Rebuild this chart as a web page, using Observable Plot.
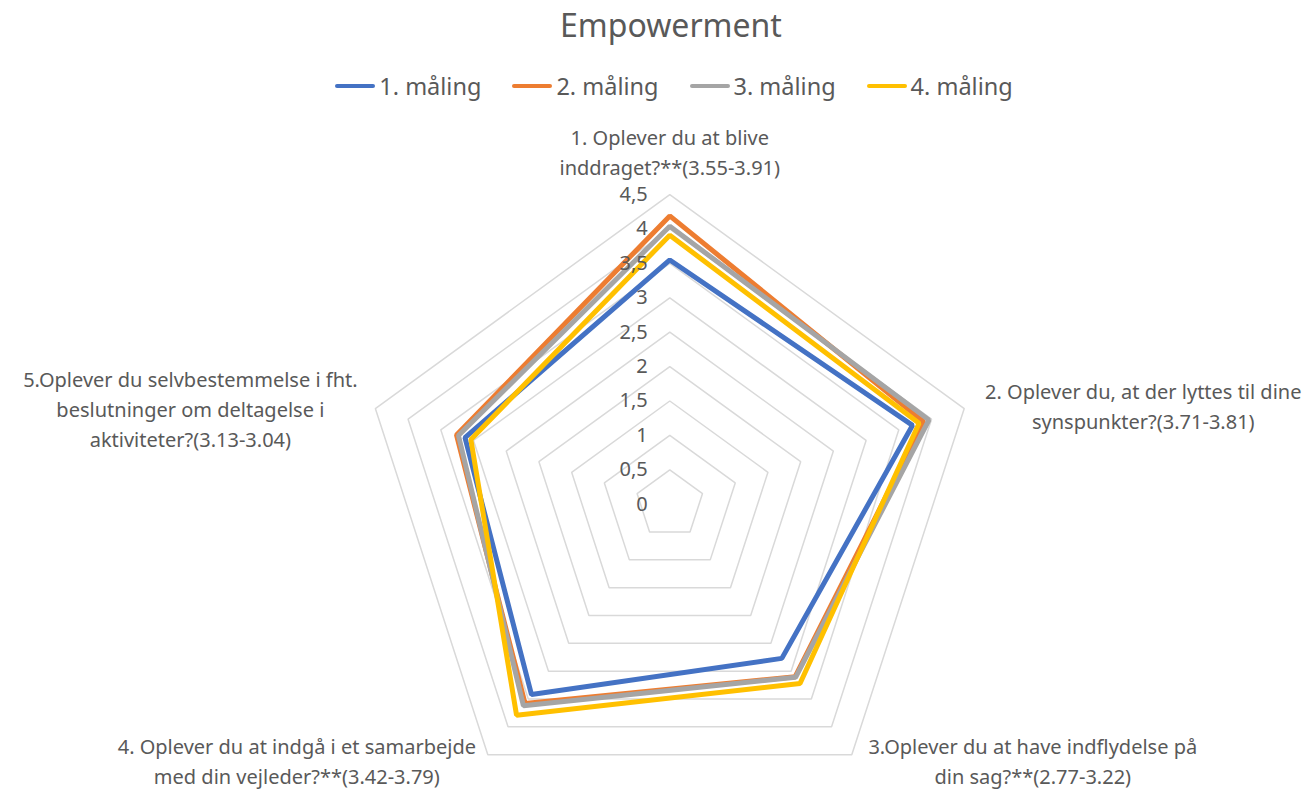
<!DOCTYPE html>
<html><head><meta charset="utf-8">
<script src="https://cdn.jsdelivr.net/npm/d3@7"></script>
<script src="https://cdn.jsdelivr.net/npm/@observablehq/plot@0.6"></script>
<style>
body{margin:0;background:#fff;font-family:"Noto Sans",sans-serif;color:#595959;}
#header{position:relative;width:1314px;height:105px;}
#title{position:absolute;top:3px;left:0;width:1314px;box-sizing:border-box;padding-left:28px;text-align:center;font-size:32px;}
#legend{position:absolute;top:70px;left:0;width:1314px;box-sizing:border-box;padding-left:34px;display:flex;justify-content:center;gap:31px;font-size:23.5px;}
.item{display:flex;align-items:center;}
.sw{display:inline-block;width:40px;height:4px;border-radius:2px;margin-right:4px;}
#chart svg{display:block;}
</style>
</head><body>
<div id="header"><div id="title">Empowerment</div><div id="legend"></div></div>
<div id="chart"></div>
<script>
// ---- data ----
const axisLabels = [
  "1. Oplever du at blive\ninddraget?**(3.55-3.91)",
  "2. Oplever du, at der lyttes til dine\nsynspunkter?(3.71-3.81)",
  "3.Oplever du at have indflydelse på\ndin sag?**(2.77-3.22)",
  "4. Oplever du at indgå i et samarbejde\nmed din vejleder?**(3.42-3.79)",
  "5.Oplever du selvbestemmelse i fht.\nbeslutninger om deltagelse i\naktiviteter?(3.13-3.04)"
];
const seriesNames = ["1. måling", "2. måling", "3. måling", "4. måling"];
const maaling1 = [3.55, 3.71, 2.77, 3.42, 3.13];
const maaling2 = [4.19, 3.88, 3.10, 3.58, 3.26];
const maaling3 = [4.04, 3.96, 3.11, 3.62, 3.23];
const maaling4 = [3.91, 3.81, 3.22, 3.79, 3.04];
const tickValues = [0, 0.5, 1, 1.5, 2, 2.5, 3, 3.5, 4, 4.5];
const tickLabels = ["0", "0,5", "1", "1,5", "2", "2,5", "3", "3,5", "4", "4,5"];

// ---- style / layout ----
const colors = ["#4472C4", "#ED7D31", "#A5A5A5", "#FFC000"];
const W = 1314, H = 685;
const cx = 669.3, cy = 398.7, k = 68.8; // center (px) and px per unit
const rMax = 4.5;
const labelOffsets = [ // dx, dy in px relative to outer vertex
  {dx: 0, dy: -44},
  {dx: 179, dy: -4},
  {dx: 181, dy: 5},
  {dx: -191, dy: 5},
  {dx: -185, dy: -1}
];

const n = axisLabels.length;
const ang = i => (2 * Math.PI * i) / n;
const pol = (v, i) => ({x: v * Math.sin(ang(i)), y: v * Math.cos(ang(i))});

const allSeries = [maaling1, maaling2, maaling3, maaling4];
const points = [];
allSeries.forEach((vals, s) => vals.forEach((v, i) => points.push({series: seriesNames[s], ...pol(v, i)})));

const rings = [];
tickValues.filter(t => t > 0).forEach(t => axisLabels.forEach((_, i) => rings.push({level: t, ...pol(t, i)})));

const ticks = tickValues.map((t, j) => ({label: tickLabels[j], x: 0, y: t}));
const labels = axisLabels.map((l, i) => ({label: l, ...pol(rMax, i), ...labelOffsets[i]}));

// legend
const leg = document.getElementById("legend");
seriesNames.forEach((s, i) => {
  const it = document.createElement("div"); it.className = "item";
  const sw = document.createElement("span"); sw.className = "sw"; sw.style.background = colors[i];
  const tx = document.createElement("span"); tx.textContent = s;
  it.append(sw, tx); leg.append(it);
});

const chart = Plot.plot({
  width: W, height: H,
  margin: 0,
  x: {domain: [-cx / k, (W - cx) / k], axis: null},
  y: {domain: [-(H - cy) / k, cy / k], axis: null},
  color: {domain: seriesNames, range: colors},
  style: {fontFamily: "'Noto Sans', sans-serif", color: "#595959", background: "#fff"},
  marks: [
    Plot.line(rings, {x: "x", y: "y", z: "level", curve: "linear-closed", stroke: "#d9d9d9", strokeWidth: 1.5, strokeLinejoin: "miter"}),
    Plot.line(points, {x: "x", y: "y", z: "series", stroke: "series", curve: "linear-closed", strokeWidth: 5, strokeLinejoin: "miter"}),
    Plot.text(ticks, {x: "x", y: "y", text: "label", textAnchor: "end", dx: -22, fontSize: 20, fill: "#595959"}),
    ...labels.map(d => Plot.text([d], {x: "x", y: "y", text: "label", dx: d.dx, dy: d.dy, textAnchor: "middle", lineHeight: 1.5, fontSize: 20, fill: "#595959"}))
  ]
});
document.getElementById("chart").append(chart);
</script>
</body></html>
